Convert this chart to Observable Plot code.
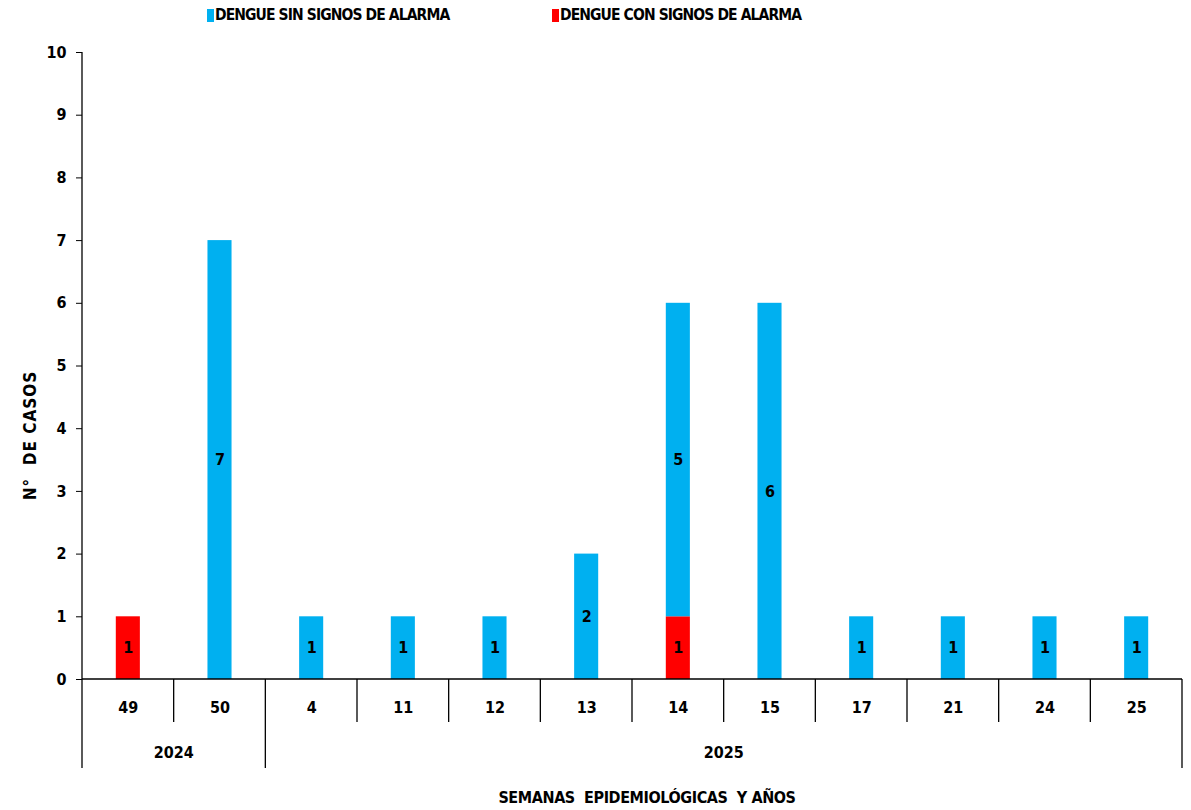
<!DOCTYPE html>
<html><head><meta charset="utf-8">
<script src="https://cdn.jsdelivr.net/npm/d3@7"></script>
<script src="https://cdn.jsdelivr.net/npm/@observablehq/plot@0.6"></script>
<style>
body{margin:0;background:#fff;font-family:"Liberation Sans Narrow","DejaVu Sans Condensed",sans-serif;}
#legend{position:relative;height:30px;width:1191px;font-weight:bold;font-size:15.5px;color:#000;letter-spacing:-0.9px;}
.item{position:absolute;top:5px;display:flex;align-items:center;line-height:20px;}
.sw{width:7px;height:13px;margin-right:1px;}
svg{display:block;}
</style></head><body>
<div id="legend"></div>
<div id="chart"></div>
<script>
const weeks = ["49","50","4","11","12","13","14","15","17","21","24","25"];
const years = ["2024","2024","2025","2025","2025","2025","2025","2025","2025","2025","2025","2025"];
const sinAlarma = [0,7,1,1,1,2,5,6,1,1,1,1];
const conAlarma = [1,0,0,0,0,0,1,0,0,0,0,0];
const seriesNames = ["DENGUE SIN SIGNOS DE ALARMA","DENGUE CON SIGNOS DE ALARMA"];
const seriesColors = ["#00B0F0","#FF0000"];
const yTicks = [0,1,2,3,4,5,6,7,8,9,10];
const yTitle = "N°  DE CASOS";
const xTitle = "SEMANAS  EPIDEMIOLÓGICAS  Y AÑOS";

// legend
const legendLeft = [207, 552];
const legend = document.getElementById("legend");
seriesNames.forEach((n,i)=>{
  const it = document.createElement("div");
  it.className = "item"; it.style.left = legendLeft[i] + "px";
  it.innerHTML = `<span class="sw" style="background:${seriesColors[i]}"></span><span>${n}</span>`;
  legend.appendChild(it);
});

// table: red (con) first so it stacks at bottom
const data = [];
weeks.forEach((w,i)=>{
  if (conAlarma[i] > 0) data.push({week:w, year:years[i], series:seriesNames[1], value:conAlarma[i]});
  if (sinAlarma[i] > 0) data.push({week:w, year:years[i], series:seriesNames[0], value:sinAlarma[i]});
});

const FONT = '"Liberation Sans Narrow","DejaVu Sans Condensed",sans-serif';

function frameMark(index, scales, values, dims) {
  const {x, y} = scales;
  const step = (dims.width - dims.marginLeft - dims.marginRight) / weeks.length;
  const y0 = y(0);
  const g = d3.create("svg:g");
  const lines = g.append("g").attr("stroke", "#000").attr("stroke-width", 1.3).attr("fill", "none");
  lines.append("line").attr("x1", dims.marginLeft).attr("x2", dims.marginLeft).attr("y1", y(10)).attr("y2", y0);
  lines.append("line").attr("x1", dims.marginLeft).attr("x2", dims.width - dims.marginRight).attr("y1", y0).attr("y2", y0);
  weeks.forEach((w, i) => {
    const start = i === 0 || years[i] !== years[i-1];
    const xb = x(w);
    lines.append("line").attr("x1", xb).attr("x2", xb).attr("y1", y0).attr("y2", y0 + (start ? 89 : 43));
  });
  const xe = x(weeks[weeks.length-1]) + step;
  lines.append("line").attr("x1", xe).attr("x2", xe).attr("y1", y0).attr("y2", y0 + 89);
  const groups = d3.groups(weeks.map((w,i)=>({w, year: years[i]})), d => d.year);
  const texts = g.append("g").attr("font-family", FONT).attr("font-weight", "bold").attr("fill", "#000").attr("text-anchor", "middle");
  groups.forEach(([yr, ws]) => {
    const cx = (x(ws[0].w) + x(ws[ws.length-1].w) + step) / 2;
    texts.append("text").attr("x", cx).attr("y", y0 + 73).attr("dy", "0.35em").attr("font-size", 16).text(yr);
  });
  texts.append("text").attr("x", (dims.marginLeft + dims.width - dims.marginRight)/2 + 15).attr("y", y0 + 118).attr("dy","0.35em").attr("font-size", 16).attr("letter-spacing", "-0.4px").text(xTitle);
  const cy = (y(10) + y0) / 2 + 70;
  texts.append("text").attr("transform", `translate(30,${cy}) rotate(-90)`).attr("dy","0.35em").attr("font-size", 17).attr("letter-spacing", "1px").text(yTitle);
  return g.node();
}

const chart = Plot.plot({
  width: 1191,
  height: 780,
  marginTop: 22,
  marginBottom: 131,
  marginLeft: 82,
  marginRight: 9,
  style: {fontFamily: FONT, background: "#fff", color: "#000"},
  x: {type: "band", domain: weeks, padding: 0, round: false},
  y: {domain: [0, 10]},
  color: {domain: seriesNames, range: seriesColors},
  marks: [
    Plot.barY(data, Plot.stackY({x: "week", y: "value", fill: "series", order: null, insetLeft: 33.8, insetRight: 33.8})),
    Plot.text(data, Plot.stackY({x: "week", y: "value", z: "series", order: null, text: d => String(d.value), fontSize: 16, fontWeight: "bold", fill: "#000"})),
    Plot.axisX({tickSize: 0, tickPadding: 22, fontSize: 16, fontWeight: "bold", label: null}),
    Plot.axisY({ticks: yTicks, tickSize: 6, tickPadding: 10, fontSize: 16, fontWeight: "bold", label: null, tickFormat: d3.format("d")}),
    frameMark
  ]
});
document.getElementById("chart").appendChild(chart);
</script>
</body></html>
